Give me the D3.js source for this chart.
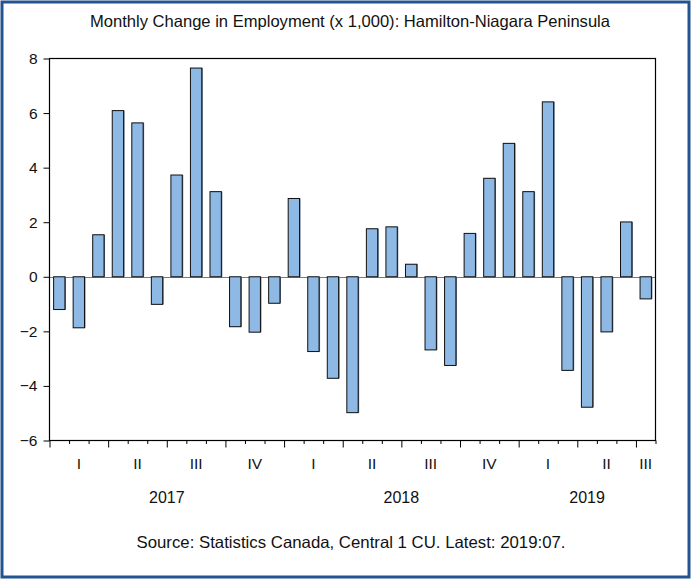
<!DOCTYPE html>
<html>
<head>
<meta charset="utf-8">
<script src="https://cdn.jsdelivr.net/npm/d3@7"></script>
<style>
  html, body { margin: 0; padding: 0; background: #fff; }
  svg { display: block; }
  text { font-family: "Liberation Sans Narrow", "Liberation Sans", Arial, sans-serif; fill: #111; }
</style>
</head>
<body>
<svg id="chart" width="691" height="579"></svg>
<script>
// Monthly change in employment, thousands, Jan 2017 - Jul 2019
const months = [
  "2017-01","2017-02","2017-03","2017-04","2017-05","2017-06",
  "2017-07","2017-08","2017-09","2017-10","2017-11","2017-12",
  "2018-01","2018-02","2018-03","2018-04","2018-05","2018-06",
  "2018-07","2018-08","2018-09","2018-10","2018-11","2018-12",
  "2019-01","2019-02","2019-03","2019-04","2019-05","2019-06","2019-07"
];
const changes = [
  -1.20, -1.87, 1.54, 6.09, 5.64, -1.01,
   3.73,  7.65, 3.12, -1.83, -2.03, -0.97,
   2.87, -2.74, -3.72, -4.98, 1.76, 1.83,
   0.46, -2.68, -3.25, 1.59, 3.61, 4.89,
   3.12,  6.41, -3.43, -4.78, -2.02, 2.01, -0.81
];
const yTicks = [-6, -4, -2, 0, 2, 4, 6, 8];
const quarterNames = ["I", "II", "III", "IV"];
const years = ["2017", "2018", "2019"];
const titleText = "Monthly Change in Employment (x 1,000): Hamilton-Niagara Peninsula";
const sourceText = "Source: Statistics Canada, Central 1 CU. Latest: 2019:07.";

const svg = d3.select("#chart");
const plot = { left: 49.5, right: 655.5, top: 58.5, bottom: 440.5 };

// outer blue frame
svg.append("rect")
  .attr("x", 2).attr("y", 2).attr("width", 687).attr("height", 575)
  .attr("fill", "#fff").attr("stroke", "#24548f").attr("stroke-width", 3);

const x = d3.scaleBand()
  .domain(months)
  .range([plot.left, plot.right])
  .paddingInner(0.42)
  .paddingOuter(0.21);

// month-boundary scale for tick marks
const xm = d3.scaleLinear().domain([0, months.length]).range([plot.left, plot.right]);

const y = d3.scaleLinear().domain([-6, 8]).range([plot.bottom, plot.top]);

// title
svg.append("text")
  .attr("x", 350).attr("y", 26.5)
  .attr("text-anchor", "middle")
  .attr("font-size", 16.5)
  .attr("textLength", 520).attr("lengthAdjust", "spacingAndGlyphs")
  .text(titleText);

// zero line
svg.append("line")
  .attr("x1", plot.left).attr("x2", plot.right)
  .attr("y1", Math.round(y(0)) + 0.5).attr("y2", Math.round(y(0)) + 0.5)
  .attr("stroke", "#7a7a7a").attr("stroke-width", 1.2);

// bars with a thin darker edge on the right
const bars = svg.append("g");
bars.selectAll("rect.shade")
  .data(months)
  .join("rect")
  .attr("class", "shade")
  .attr("x", d => x(d) + 1)
  .attr("y", (d, i) => y(Math.max(0, changes[i])))
  .attr("width", x.bandwidth())
  .attr("height", (d, i) => Math.abs(y(changes[i]) - y(0)))
  .attr("fill", "#5c6f85");
bars.selectAll("rect.bar")
  .data(months)
  .join("rect")
  .attr("class", "bar")
  .attr("x", d => x(d))
  .attr("y", (d, i) => y(Math.max(0, changes[i])))
  .attr("width", x.bandwidth())
  .attr("height", (d, i) => Math.abs(y(changes[i]) - y(0)))
  .attr("fill", "#8db9e4")
  .attr("stroke", "#111")
  .attr("stroke-width", 1);

// plot box
svg.append("rect")
  .attr("x", plot.left).attr("y", plot.top)
  .attr("width", plot.right - plot.left).attr("height", plot.bottom - plot.top)
  .attr("fill", "none").attr("stroke", "#000").attr("stroke-width", 1.2);

// y axis
const yAxis = d3.axisLeft(y).tickValues(yTicks).tickSize(6).tickPadding(6).tickFormat(d3.format("d"));
const gy = svg.append("g").attr("transform", `translate(${plot.left},0)`).call(yAxis);
gy.select(".domain").remove();
gy.selectAll("line").attr("stroke", "#000");
gy.selectAll("text").attr("font-size", 15.5).attr("fill", "#111")
  .attr("font-family", "'Liberation Sans', Arial, sans-serif");

// x axis month ticks (long at quarter boundaries)
const boundaries = d3.range(months.length + 1);
const xAxis = d3.axisBottom(xm).tickValues(boundaries).tickFormat("").tickSizeOuter(0);
const gx = svg.append("g").attr("transform", `translate(0,${plot.bottom})`).call(xAxis);
gx.select(".domain").remove();
gx.selectAll(".tick line")
  .attr("stroke", "#000")
  .attr("y2", d => (d % 3 === 0 && d < months.length) ? 7 : 3.5);

// quarter labels
const quarters = [];
months.forEach((m, i) => {
  const q = Math.floor((+m.slice(5) - 1) / 3);
  const key = m.slice(0, 4) + "Q" + q;
  const last = quarters[quarters.length - 1];
  if (last && last.key === key) last.end = i + 1;
  else quarters.push({ key, q, start: i, end: i + 1 });
});
svg.append("g").selectAll("text")
  .data(quarters)
  .join("text")
  .attr("x", d => xm((d.start + d.end) / 2))
  .attr("y", 469)
  .attr("text-anchor", "middle")
  .attr("font-size", 15.5)
  .text(d => quarterNames[d.q]);

// year labels
svg.append("g").selectAll("text")
  .data(years)
  .join("text")
  .attr("x", yr => {
    const idx = months.map((m, i) => m.startsWith(yr) ? i : -1).filter(i => i >= 0);
    return xm((idx[0] + idx[idx.length - 1] + 1) / 2);
  })
  .attr("y", 503)
  .attr("text-anchor", "middle")
  .attr("font-size", 16)
  .attr("font-family", "'Liberation Sans', Arial, sans-serif")
  .text(d => d);

// source note
svg.append("text")
  .attr("x", 351).attr("y", 548)
  .attr("text-anchor", "middle")
  .attr("font-size", 16.5)
  .attr("textLength", 429).attr("lengthAdjust", "spacingAndGlyphs")
  .text(sourceText);
</script>
</body>
</html>
